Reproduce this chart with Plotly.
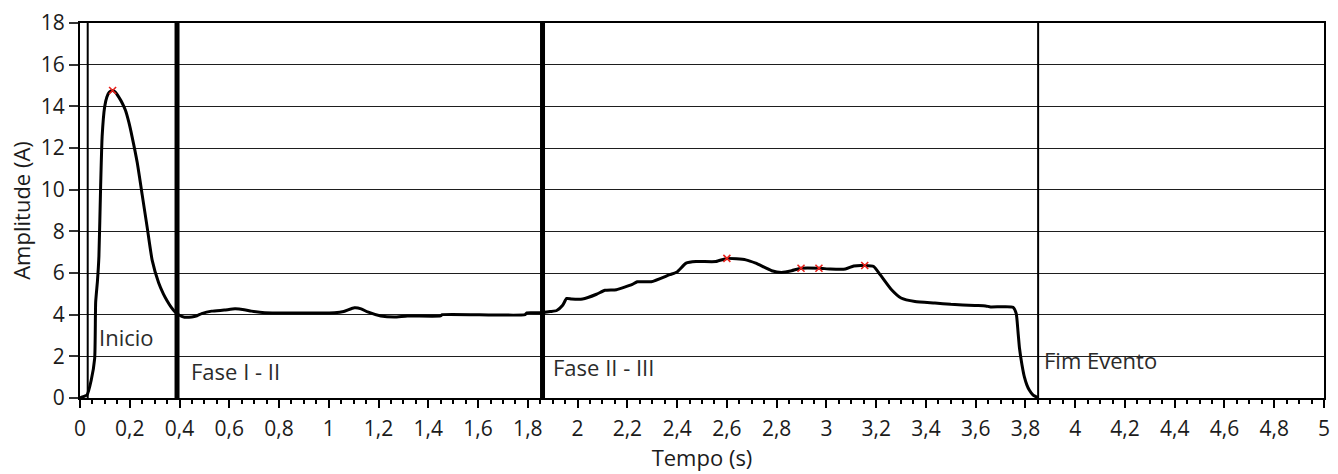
import plotly.graph_objects as go

# Current waveform (time in s, amplitude in A)
tempo = [
    0.0, 0.005, 0.028, 0.045, 0.059, 0.063, 0.070, 0.076, 0.083, 0.089, 0.099,
    0.108, 0.118, 0.131, 0.142, 0.156, 0.170, 0.183, 0.196, 0.209, 0.230, 0.250,
    0.270, 0.290, 0.316, 0.335, 0.350, 0.367, 0.383, 0.396, 0.420, 0.449, 0.470,
    0.489, 0.529, 0.580, 0.623, 0.660, 0.689, 0.743, 0.850, 1.023, 1.060, 1.103,
    1.130, 1.156, 1.209, 1.263, 1.316, 1.449, 1.456, 1.789, 1.796, 1.850, 1.890,
    1.916, 1.940, 1.956, 1.976, 2.020, 2.076, 2.110, 2.156, 2.220, 2.240, 2.296,
    2.370, 2.400, 2.436, 2.476, 2.556, 2.600, 2.676, 2.716, 2.780, 2.820, 2.860,
    2.898, 2.970, 3.016, 3.076, 3.110, 3.154, 3.190, 3.216, 3.260, 3.300, 3.356,
    3.436, 3.500, 3.596, 3.640, 3.660, 3.750, 3.763, 3.770, 3.776, 3.786, 3.796,
    3.806, 3.816, 3.830, 3.843, 3.851,
]
amplitude = [
    0.0, 0.03, 0.14, 0.85, 1.90, 4.60, 5.60, 6.80, 10.20, 12.56, 13.97,
    14.45, 14.68, 14.76, 14.68, 14.44, 14.15, 13.80, 13.25, 12.56, 11.30, 9.75,
    8.19, 6.62, 5.53, 5.00, 4.67, 4.35, 4.12, 4.00, 3.88, 3.89, 3.95,
    4.05, 4.17, 4.22, 4.28, 4.24, 4.17, 4.09, 4.08, 4.09, 4.15, 4.33,
    4.28, 4.13, 3.94, 3.89, 3.94, 3.94, 4.00, 4.00, 4.09, 4.09, 4.15,
    4.20, 4.45, 4.78, 4.75, 4.75, 4.98, 5.17, 5.20, 5.45, 5.58, 5.58,
    5.92, 6.05, 6.47, 6.55, 6.55, 6.70, 6.63, 6.47, 6.11, 6.03, 6.11,
    6.23, 6.23, 6.19, 6.19, 6.34, 6.36, 6.31, 5.92, 5.22, 4.80, 4.63,
    4.56, 4.50, 4.44, 4.42, 4.37, 4.36, 4.05, 3.20, 2.40, 1.60, 1.00,
    0.62, 0.37, 0.15, 0.06, 0.0,
]

# Detected peaks
pico_tempo = [0.131, 2.600, 2.898, 2.970, 3.154]
pico_amp = [14.76, 6.70, 6.23, 6.23, 6.36]

# Event cursors
cursor_nome = ["Inicio", "Fase I - II", "Fase II - III", "Fim Evento"]
cursor_tempo = [0.031, 0.390, 1.859, 3.851]
cursor_largura = [2, 5, 5, 2]
cursor_rotulo_y = [2.95, 1.31, 1.50, 1.83]
cursor_desloc = [9, 12, 8, 4]

x_ticks = [round(0.2 * i, 1) for i in range(26)]
y_ticks = list(range(0, 19, 2))

FONT = "Open Sans"
TXT = "#1b1b1b"

fig = go.Figure()

fig.add_trace(go.Scatter(
    x=tempo, y=amplitude, mode="lines",
    line=dict(color="black", width=3, shape="spline", smoothing=0.5),
    hoverinfo="skip", showlegend=False,
))

fig.add_trace(go.Scatter(
    x=pico_tempo, y=pico_amp, mode="markers",
    marker=dict(symbol="x-thin", size=7, line=dict(color="#e8211b", width=1.6)),
    showlegend=False,
))

for nome, t, w, ry, dx in zip(cursor_nome, cursor_tempo, cursor_largura,
                              cursor_rotulo_y, cursor_desloc):
    fig.add_vline(x=t, line=dict(color="black", width=w), layer="above")
    fig.add_annotation(
        x=t, y=ry, xref="x", yref="y", text=nome, showarrow=False,
        xanchor="left", yanchor="middle", xshift=dx,
        font=dict(family=FONT, size=22, color="#2b2b2b"),
    )

fig.update_layout(
    width=1338, height=474,
    margin=dict(l=80, r=8, t=14, b=76),
    paper_bgcolor="white", plot_bgcolor="white",
    separators=",.",
    font=dict(family=FONT, color=TXT),
)

fig.update_xaxes(
    range=[0, 5], tickvals=x_ticks,
    ticks="outside", ticklen=8, tickwidth=1.5, tickcolor="black",
    minor=dict(dtick=0.05, ticks="outside", ticklen=4, tickwidth=1.5, tickcolor="black"),
    showgrid=False, zeroline=False,
    showline=True, linecolor="black", linewidth=2, mirror=True,
    tickfont=dict(family=FONT, size=21, color=TXT),
    ticklabelstandoff=3, ticklabeloverflow="allow",
    title=dict(text="Tempo (s)", font=dict(family=FONT, size=22, color=TXT), standoff=7),
)

fig.update_yaxes(
    range=[0, 18], tickvals=y_ticks,
    ticks="outside", ticklen=9, tickwidth=1.5, tickcolor="#333",
    showgrid=True, gridcolor="#1e1e1e", gridwidth=1.3, zeroline=False,
    showline=True, linecolor="black", linewidth=2, mirror=True,
    tickfont=dict(family=FONT, size=21, color=TXT),
    ticklabeloverflow="allow",
    title=dict(text="Amplitude (A)", font=dict(family=FONT, size=22, color=TXT), standoff=4),
)

fig.write_html("out.html")
